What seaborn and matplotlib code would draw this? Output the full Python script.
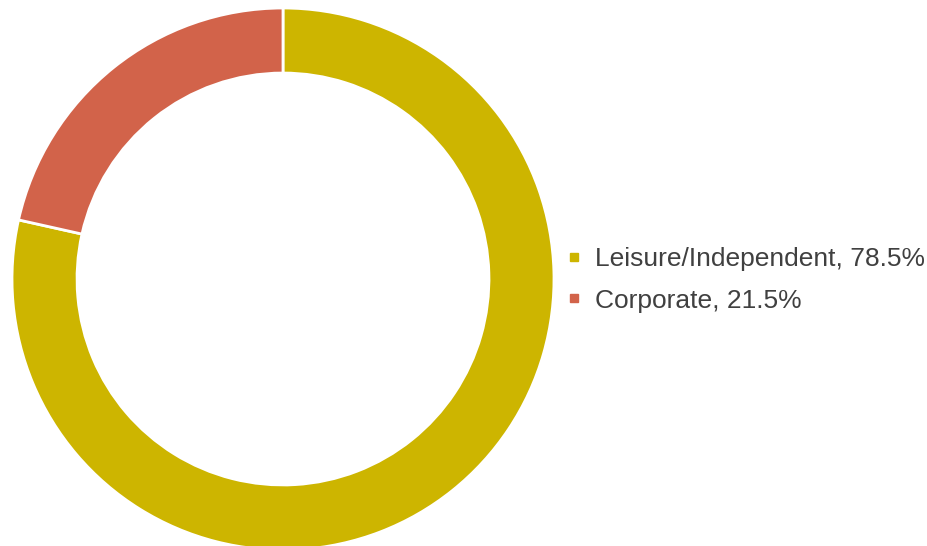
import matplotlib
matplotlib.use("Agg")
import matplotlib.pyplot as plt
from matplotlib.lines import Line2D
import seaborn as sns

# data
segments = ["Leisure/Independent", "Corporate"]
shares = [78.5, 21.5]
colors = ["#CDB500", "#D2634A"]

sns.set_theme(style="white")
plt.rcParams['font.family'] = ['Liberation Sans', 'DejaVu Sans']

fig = plt.figure(figsize=(9.28, 5.46), dpi=100)
# axes sized so the ring sits where it does in the reference
ax = fig.add_axes([12 / 928, -4 / 546, 542 / 928, 542 / 546])

ax.pie(shares, colors=colors, startangle=90, counterclock=False,
       radius=1.0,
       wedgeprops=dict(width=0.24, edgecolor="white", linewidth=2))
ax.set_xlim(-1, 1)
ax.set_ylim(-1, 1)
ax.set_aspect("equal")
ax.axis("off")

labels = [f"{s}, {v}%" for s, v in zip(segments, shares)]
handles = [Line2D([0], [0], marker="s", linestyle="", markersize=6,
                  markerfacecolor=c, markeredgecolor=c) for c in colors]
fig.legend(handles, labels, loc="center left",
           bbox_to_anchor=(563 / 928, 1 - 280 / 546), frameon=False,
           fontsize=19, labelcolor="#404040", handlelength=0.8,
           handletextpad=0.42, labelspacing=0.66, borderaxespad=0,
           borderpad=0)

fig.savefig("out.png", dpi=100, facecolor="white")
